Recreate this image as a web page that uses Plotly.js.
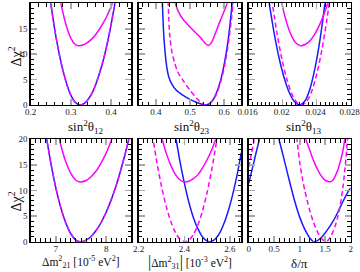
<!DOCTYPE html>
<html><head><meta charset="utf-8">
<script src="https://cdn.plot.ly/plotly-3.0.1.min.js"></script>
<style>html,body{margin:0;padding:0;background:#fff}#c{width:360px;height:272px}</style>
</head><body><div id="c"></div>
<script>
// ---- sin^2 theta12 ----
const s12_blue_x = [0.245, 0.26, 0.27, 0.28, 0.29, 0.30, 0.31, 0.3225, 0.335, 0.35, 0.36, 0.37, 0.38, 0.39, 0.40, 0.415];
const s12_blue_y = [22.7, 14.7, 10.4, 6.8, 4.0, 1.9, 0.59, 0.0, 0.41, 2.0, 3.7, 6.0, 8.7, 12.0, 15.9, 22.6];
const s12_dash_x = [0.245, 0.26, 0.27, 0.28, 0.29, 0.30, 0.31, 0.3225, 0.335, 0.35, 0.36, 0.37, 0.38, 0.39, 0.40, 0.415];
const s12_dash_y = [22.7, 14.7, 10.4, 6.8, 4.0, 1.9, 0.59, 0.0, 0.41, 2.0, 3.7, 6.0, 8.7, 12.0, 15.9, 22.6];
const s12_up_x = [0.274, 0.28, 0.29, 0.30, 0.31, 0.318, 0.33, 0.34, 0.35, 0.36, 0.37, 0.38, 0.39, 0.40, 0.406];
const s12_up_y = [20.4, 18.2, 15.2, 13.1, 11.95, 11.66, 11.8, 12.2, 12.85, 13.7, 14.8, 16.1, 17.6, 19.4, 20.6];
// ---- sin^2 theta23 ----
const s23_blue_x = [0.419, 0.421, 0.423, 0.427, 0.432, 0.438, 0.446, 0.46, 0.48, 0.50, 0.52, 0.535, 0.545, 0.555, 0.565, 0.575, 0.588, 0.60, 0.61, 0.618, 0.624];
const s23_blue_y = [20.5, 17, 14, 10.5, 7.5, 5.5, 4.2, 2.9, 1.9, 1.1, 0.5, 0.15, 0.0, 0.2, 0.8, 2.0, 4.5, 8, 12, 16.5, 20.5];
const s23_dash_x = [0.436, 0.438, 0.441, 0.447, 0.455, 0.465, 0.48, 0.50, 0.52, 0.535, 0.545, 0.555, 0.565, 0.577, 0.59, 0.602, 0.612, 0.621, 0.627];
const s23_dash_y = [20.5, 17, 13.5, 10.5, 8.3, 6.4, 4.8, 2.9, 1.3, 0.3, 0.0, 0.2, 0.8, 2.1, 4.6, 8, 12, 16.8, 20.5];
const s23_up_x = [0.455, 0.465, 0.48, 0.505, 0.53, 0.545, 0.554, 0.563, 0.573, 0.585, 0.597, 0.612];
const s23_up_y = [20.5, 18.5, 16.8, 15.0, 13.3, 12.1, 11.7, 12.3, 13.9, 16.0, 18.0, 20.5];
// ---- sin^2 theta13 ----
const s13_blue_x = [0.0184, 0.019, 0.0196, 0.0202, 0.0208, 0.0214, 0.0220, 0.0226, 0.0232, 0.0238, 0.0244, 0.0250];
const s13_blue_y = [20.2, 14.1, 9.1, 5.2, 2.35, 0.63, 0.0, 0.73, 3.1, 7.2, 12.9, 20.3];
const s13_dash_x = [0.0187, 0.0193, 0.0199, 0.0205, 0.0211, 0.0217, 0.0222, 0.0228, 0.0234, 0.0240, 0.0246, 0.0252, 0.0256];
const s13_dash_y = [20.9, 14.4, 9.1, 5.0, 2.1, 0.44, 0.0, 0.65, 2.6, 6.0, 10.7, 16.7, 21.5];
const s13_up_x = [0.0197, 0.0199, 0.0203, 0.0207, 0.0211, 0.0215, 0.0221, 0.0227, 0.0233, 0.0239, 0.0245, 0.0251, 0.0254];
const s13_up_y = [21.5, 20.0, 17.2, 15.0, 13.4, 12.3, 11.66, 11.95, 12.8, 14.3, 16.35, 19.0, 20.5];
// ---- dm2_21 ----
const m21_blue_x = [6.8, 6.9, 7.0, 7.1, 7.2, 7.3, 7.4, 7.48, 7.6, 7.7, 7.8, 7.9, 8.0, 8.1, 8.2, 8.3, 8.4, 8.5];
const m21_blue_y = [21.1, 15.4, 10.5, 6.6, 3.6, 1.5, 0.29, 0.0, 0.31, 1.03, 2.18, 3.75, 5.75, 8.17, 11.0, 14.3, 18.0, 22.1];
const m21_dash_x = [6.8, 6.9, 7.0, 7.1, 7.2, 7.3, 7.4, 7.48, 7.6, 7.7, 7.8, 7.9, 8.0, 8.1, 8.2, 8.3, 8.4, 8.5];
const m21_dash_y = [21.1, 15.4, 10.5, 6.6, 3.6, 1.5, 0.29, 0.0, 0.31, 1.03, 2.18, 3.75, 5.75, 8.17, 11.0, 14.3, 18.0, 22.1];
const m21_up_x = [7.06, 7.1, 7.2, 7.3, 7.4, 7.48, 7.6, 7.7, 7.8, 7.9, 8.0, 8.1, 8.13];
const m21_up_y = [20.4, 18.8, 15.55, 13.3, 12.0, 11.66, 11.96, 12.7, 13.8, 15.4, 17.3, 19.7, 20.5];
// ---- |dm2_31| ----
const m31_blue_x = [2.36, 2.38, 2.40, 2.42, 2.44, 2.46, 2.48, 2.50, 2.512, 2.53, 2.55, 2.57, 2.59, 2.61, 2.63, 2.65];
const m31_blue_y = [21.1, 15.9, 11.5, 7.7, 4.7, 2.5, 0.93, 0.13, 0.0, 0.3, 1.3, 3.1, 5.6, 8.8, 12.7, 17.4];
const m31_dash_x = [2.26, 2.28, 2.30, 2.32, 2.34, 2.36, 2.38, 2.403, 2.42, 2.44, 2.46, 2.48, 2.50, 2.52, 2.54, 2.55];
const m31_dash_y = [20.9, 15.4, 10.8, 7.0, 4.05, 1.9, 0.54, 0.0, 0.3, 1.4, 3.3, 6.05, 9.6, 14.0, 19.2, 22];
const m31_up_x = [2.30, 2.32, 2.34, 2.36, 2.38, 2.403, 2.42, 2.44, 2.46, 2.48, 2.50, 2.52, 2.54, 2.545];
const m31_up_y = [20.5, 17.4, 15.0, 13.2, 12.1, 11.66, 11.8, 12.3, 13.1, 14.4, 16.0, 17.9, 20.25, 20.9];
// ---- delta/pi ----
const dcp_blue_x = [0, 0.05, 0.1, 0.15, 0.2, 0.22, null, 0.58, 0.65, 0.72, 0.80, 0.90, 1.0, 1.1, 1.2, 1.27, 1.35, 1.45, 1.55, 1.65, 1.75, 1.85, 1.95, 2.0];
const dcp_blue_y = [11.4, 13.4, 15.5, 17.6, 19.6, 20.5, null, 20.5, 17.8, 15.0, 11.8, 8.0, 4.8, 2.4, 0.7, 0.0, 0.2, 1.1, 2.4, 3.9, 5.8, 7.9, 9.8, 10.5];
const dcp_dash_x = [0, 0.05, 0.1, 0.11, null, 0.94, 0.97, 1.0, 1.05, 1.1, 1.15, 1.2, 1.25, 1.3, 1.35, 1.4, 1.45, 1.5, 1.55, 1.6, 1.65, 1.7, 1.75, 1.8, 1.85, 1.9, 1.94];
const dcp_dash_y = [14.5, 17.0, 19.6, 20.5, null, 20.5, 18, 15.5, 12.5, 10, 7.9, 6.0, 4.4, 3.0, 1.9, 1.0, 0.4, 0.05, 0.2, 0.9, 1.9, 3.2, 5.0, 7.4, 10.8, 15.5, 20.5];
const dcp_up_x = [1.1, 1.15, 1.2, 1.25, 1.3, 1.35, 1.4, 1.45, 1.5, 1.59, 1.65, 1.7, 1.75, 1.8, 1.85, 1.89];
const dcp_up_y = [20.5, 19.2, 17.8, 16.4, 15.2, 14.1, 13.2, 12.5, 12.0, 11.7, 12.0, 12.9, 14.1, 15.8, 17.9, 20.5];

const yTicks = [0, 5, 10, 15, 20];
const xTitles = ['sin<sup>2</sup>θ<sub>12</sub>', 'sin<sup>2</sup>θ<sub>23</sub>', 'sin<sup>2</sup>θ<sub>13</sub>',
  'Δm<sup>2</sup><sub>21</sub> [10<sup>-5</sup> eV<sup>2</sup>]',
  '<span style="font-size:16px">|</span>Δm<sup>2</sup><sub>31</sub><span style="font-size:16px">|</span> [10<sup>-3</sup> eV<sup>2</sup>]',
  'δ/π'];
const yTitle = 'Δχ<sup>2</sup>';

const BLUE = '#1a1aff', MAG = '#ff00ff';
const W = 360, H = 272;
const fx = p => p / W, fy = p => 1 - p / H;

function ln(x, y, k, color, dash) {
  return {x: x, y: y, xaxis: 'x' + (k === 1 ? '' : k), yaxis: 'y' + (k === 1 ? '' : k), mode: 'lines',
    line: {color: color, width: 1.5, dash: dash, shape: 'spline', smoothing: 0.8},
    connectgaps: false, hoverinfo: 'skip', showlegend: false};
}
const data = [
  ln(s12_blue_x, s12_blue_y, 1, BLUE, 'solid'), ln(s12_dash_x, s12_dash_y, 1, MAG, '5px,3px'), ln(s12_up_x, s12_up_y, 1, MAG, 'solid'),
  ln(s23_blue_x, s23_blue_y, 2, BLUE, 'solid'), ln(s23_dash_x, s23_dash_y, 2, MAG, '5px,3px'), ln(s23_up_x, s23_up_y, 2, MAG, 'solid'),
  ln(s13_blue_x, s13_blue_y, 3, BLUE, 'solid'), ln(s13_dash_x, s13_dash_y, 3, MAG, '5px,3px'), ln(s13_up_x, s13_up_y, 3, MAG, 'solid'),
  ln(m21_blue_x, m21_blue_y, 4, BLUE, 'solid'), ln(m21_dash_x, m21_dash_y, 4, MAG, '5px,3px'), ln(m21_up_x, m21_up_y, 4, MAG, 'solid'),
  ln(m31_blue_x, m31_blue_y, 5, BLUE, 'solid'), ln(m31_dash_x, m31_dash_y, 5, MAG, '5px,3px'), ln(m31_up_x, m31_up_y, 5, MAG, 'solid'),
  ln(dcp_blue_x, dcp_blue_y, 6, BLUE, 'solid'), ln(dcp_dash_x, dcp_dash_y, 6, MAG, '5px,3px'), ln(dcp_up_x, dcp_up_y, 6, MAG, 'solid')
];

const FONT = 'Liberation Serif';
const colsPx = [[30.7, 131.3], [138.7, 241.3], [248.7, 350.7]];
const rowsPx = [[3.3, 105], [139.3, 241.7]];
const xRanges = [[0.2, 0.45], [0.35, 0.65], [0.016, 0.02801], [6.5, 8.5], [2.2, 2.65], [0, 2.0001]];
const xDtick = [0.1, 0.1, 0.004, 1, 0.2, 0.5];
const xMinor = [0.02, 0.02, 0.0005, 0.1, 0.02, 0.1];
const xLabelShift = [0, 0, -1, 0, 0, 0];

function axBase() {
  return {showline: true, linecolor: '#000', linewidth: 1.3, mirror: 'allticks', ticks: 'inside',
    ticklen: 6, tickwidth: 1.6, tickcolor: '#a8a8a8', showgrid: false, zeroline: false, fixedrange: true,
    tickfont: {family: FONT, size: 9, color: '#222'},
    minor: {ticks: 'inside', ticklen: 3.5, tickwidth: 1, tickcolor: '#000', showgrid: false}};
}
const layout = {width: W, height: H, margin: {l: 0, r: 0, t: 0, b: 0}, paper_bgcolor: '#fff', plot_bgcolor: '#fff',
  showlegend: false, annotations: []};
for (let k = 1; k <= 6; k++) {
  const c = (k - 1) % 3, r = k <= 3 ? 0 : 1;
  const sfx = k === 1 ? '' : String(k);
  const xa = axBase();
  Object.assign(xa, {domain: [fx(colsPx[c][0]), fx(colsPx[c][1])], anchor: 'y' + sfx, range: xRanges[k - 1],
    tick0: 0, dtick: xDtick[k - 1], ticklabelstandoff: -2, ticklabelshift: xLabelShift[k - 1], ticklabeloverflow: 'allow'});
  xa.minor.dtick = xMinor[k - 1]; xa.minor.tick0 = 0;
  const ya = axBase();
  Object.assign(ya, {domain: [fy(rowsPx[r][1]), fy(rowsPx[r][0])], anchor: 'x' + sfx, range: [0, 20],
    tickvals: yTicks, ticktext: yTicks.map(String), showticklabels: c === 0});
  ya.minor.dtick = 1; ya.minor.tick0 = 0;
  layout['xaxis' + sfx] = xa;
  layout['yaxis' + sfx] = ya;
}
const xTitlePos = [[86, 127], [192, 127], [304, 127], [81, 262], [190, 262], [299, 263]];
const xTitleSize = [13, 13, 13, 11.5, 11.5, 13];
xTitles.forEach((t, i) => {
  layout.annotations.push({text: t, xref: 'paper', yref: 'paper', x: fx(xTitlePos[i][0]), y: fy(xTitlePos[i][1]),
    xanchor: 'center', yanchor: 'middle', showarrow: false, font: {family: FONT, size: xTitleSize[i], color: '#111'}});
});
[[15.5, 57], [15.5, 202]].forEach(p => {
  layout.annotations.push({text: yTitle, xref: 'paper', yref: 'paper', x: fx(p[0]), y: fy(p[1]), textangle: -90,
    xanchor: 'center', yanchor: 'middle', showarrow: false, font: {family: FONT, size: 14, color: '#111'}});
});
Plotly.newPlot('c', data, layout, {staticPlot: true, displayModeBar: false});
</script></body></html>
